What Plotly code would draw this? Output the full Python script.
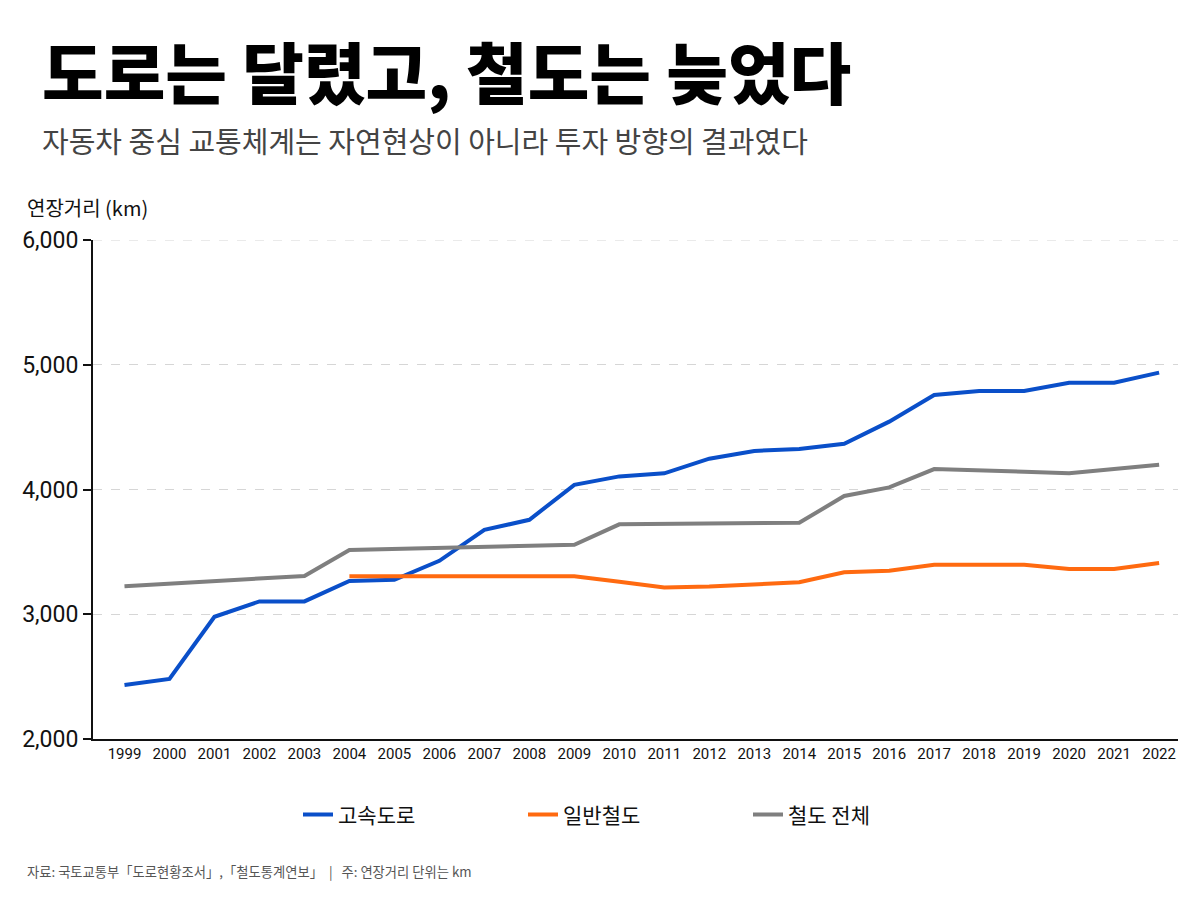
import plotly.graph_objects as go

years = list(range(1999, 2023))
expressway = [2433, 2481, 2980, 3103, 3103, 3267, 3276, 3428, 3676, 3757, 4037,
              4105, 4130, 4247, 4309, 4325, 4367, 4544, 4758, 4790, 4790, 4856, 4856, 4937]
general_rail_years = list(range(2004, 2023))
general_rail = [3305, 3305, 3305, 3305, 3305, 3305,
                3261, 3214, 3222, 3235, 3256, 3336, 3349, 3397, 3397, 3397, 3363, 3363, 3411]
rail_total = [3224, 3245, 3266, 3287, 3307, 3515, 3525, 3535, 3541, 3548, 3557,
              3721, 3723, 3725, 3729, 3733, 3948, 4017, 4164, 4156, 4143, 4130, 4167, 4199]

series_names = ["고속도로", "일반철도", "철도 전체"]
colors = ["#0a4fc9", "#ff6a10", "#7f7f7f"]
y_ticks = [2000, 3000, 4000, 5000, 6000]

KR = "Noto Sans CJK KR"
NUM = "Roboto, sans-serif"

fig = go.Figure()
fig.add_trace(go.Scatter(x=years, y=expressway, name=series_names[0], mode="lines",
                         line=dict(color=colors[0], width=4)))
fig.add_trace(go.Scatter(x=general_rail_years, y=general_rail, name=series_names[1], mode="lines",
                         line=dict(color=colors[1], width=4)))
fig.add_trace(go.Scatter(x=years, y=rail_total, name=series_names[2], mode="lines",
                         line=dict(color=colors[2], width=4)))

fig.update_layout(
    width=1200, height=900,
    paper_bgcolor="white", plot_bgcolor="white",
    margin=dict(l=93, r=22, t=240, b=161),
    font=dict(family=KR, color="#111"),
    showlegend=True,
    legend=dict(orientation="h", x=0.5, xanchor="center", y=-0.152, yanchor="middle",
                font=dict(family=KR, size=21, color="#111"), entrywidth=180,
                bgcolor="rgba(0,0,0,0)"),
    xaxis=dict(range=[1998.3, 2022.42], tickmode="array", tickvals=years,
               ticktext=[str(y) for y in years], showgrid=False, zeroline=False,
               showline=True, linecolor="#111", linewidth=2, ticks="",
               tickfont=dict(family=NUM, size=15, color="#111")),
    yaxis=dict(range=[2000, 6000], tickmode="array", tickvals=y_ticks,
               ticktext=[f"{v:,}" for v in y_ticks], showgrid=True, gridcolor="#d6d6d6",
               griddash="dash", gridwidth=1, zeroline=False, showline=True,
               linecolor="#111", linewidth=2, ticks="outside", ticklen=8,
               tickcolor="#111", tickwidth=1.5,
               tickfont=dict(family=NUM, size=23, color="#111")),
)

fig.add_shape(type="line", xref="paper", yref="y", x0=0, x1=1, y0=6000, y1=6000,
              line=dict(color="#d6d6d6", width=1, dash="dash"), layer="below")

fig.add_annotation(text="도로는 달렸고, 철도는 늦었다", xref="paper", yref="paper",
                   x=-53/1085, y=1 + (240-70)/499, xanchor="left", yanchor="middle",
                   showarrow=False, font=dict(family=KR, size=67, color="#000", weight=900))
fig.add_annotation(text="자동차 중심 교통체계는 자연현상이 아니라 투자 방향의 결과였다", xref="paper", yref="paper",
                   x=-53/1085, y=1 + (240-140)/499, xanchor="left", yanchor="middle",
                   showarrow=False, font=dict(family=KR, size=29, color="#444"))
fig.add_annotation(text="연장거리 (km)", xref="paper", yref="paper",
                   x=-68/1085, y=1 + (240-208)/499, xanchor="left", yanchor="middle",
                   showarrow=False, font=dict(family=KR, size=20, color="#111"))
fig.add_annotation(text="자료: 국토교통부「도로현황조서」,「철도통계연보」  |   주: 연장거리 단위는 km",
                   xref="paper", yref="paper",
                   x=-68/1085, y=-(871-739)/499, xanchor="left", yanchor="middle",
                   showarrow=False, font=dict(family=KR, size=13.3, color="#555"))

fig.write_html("out.html")
